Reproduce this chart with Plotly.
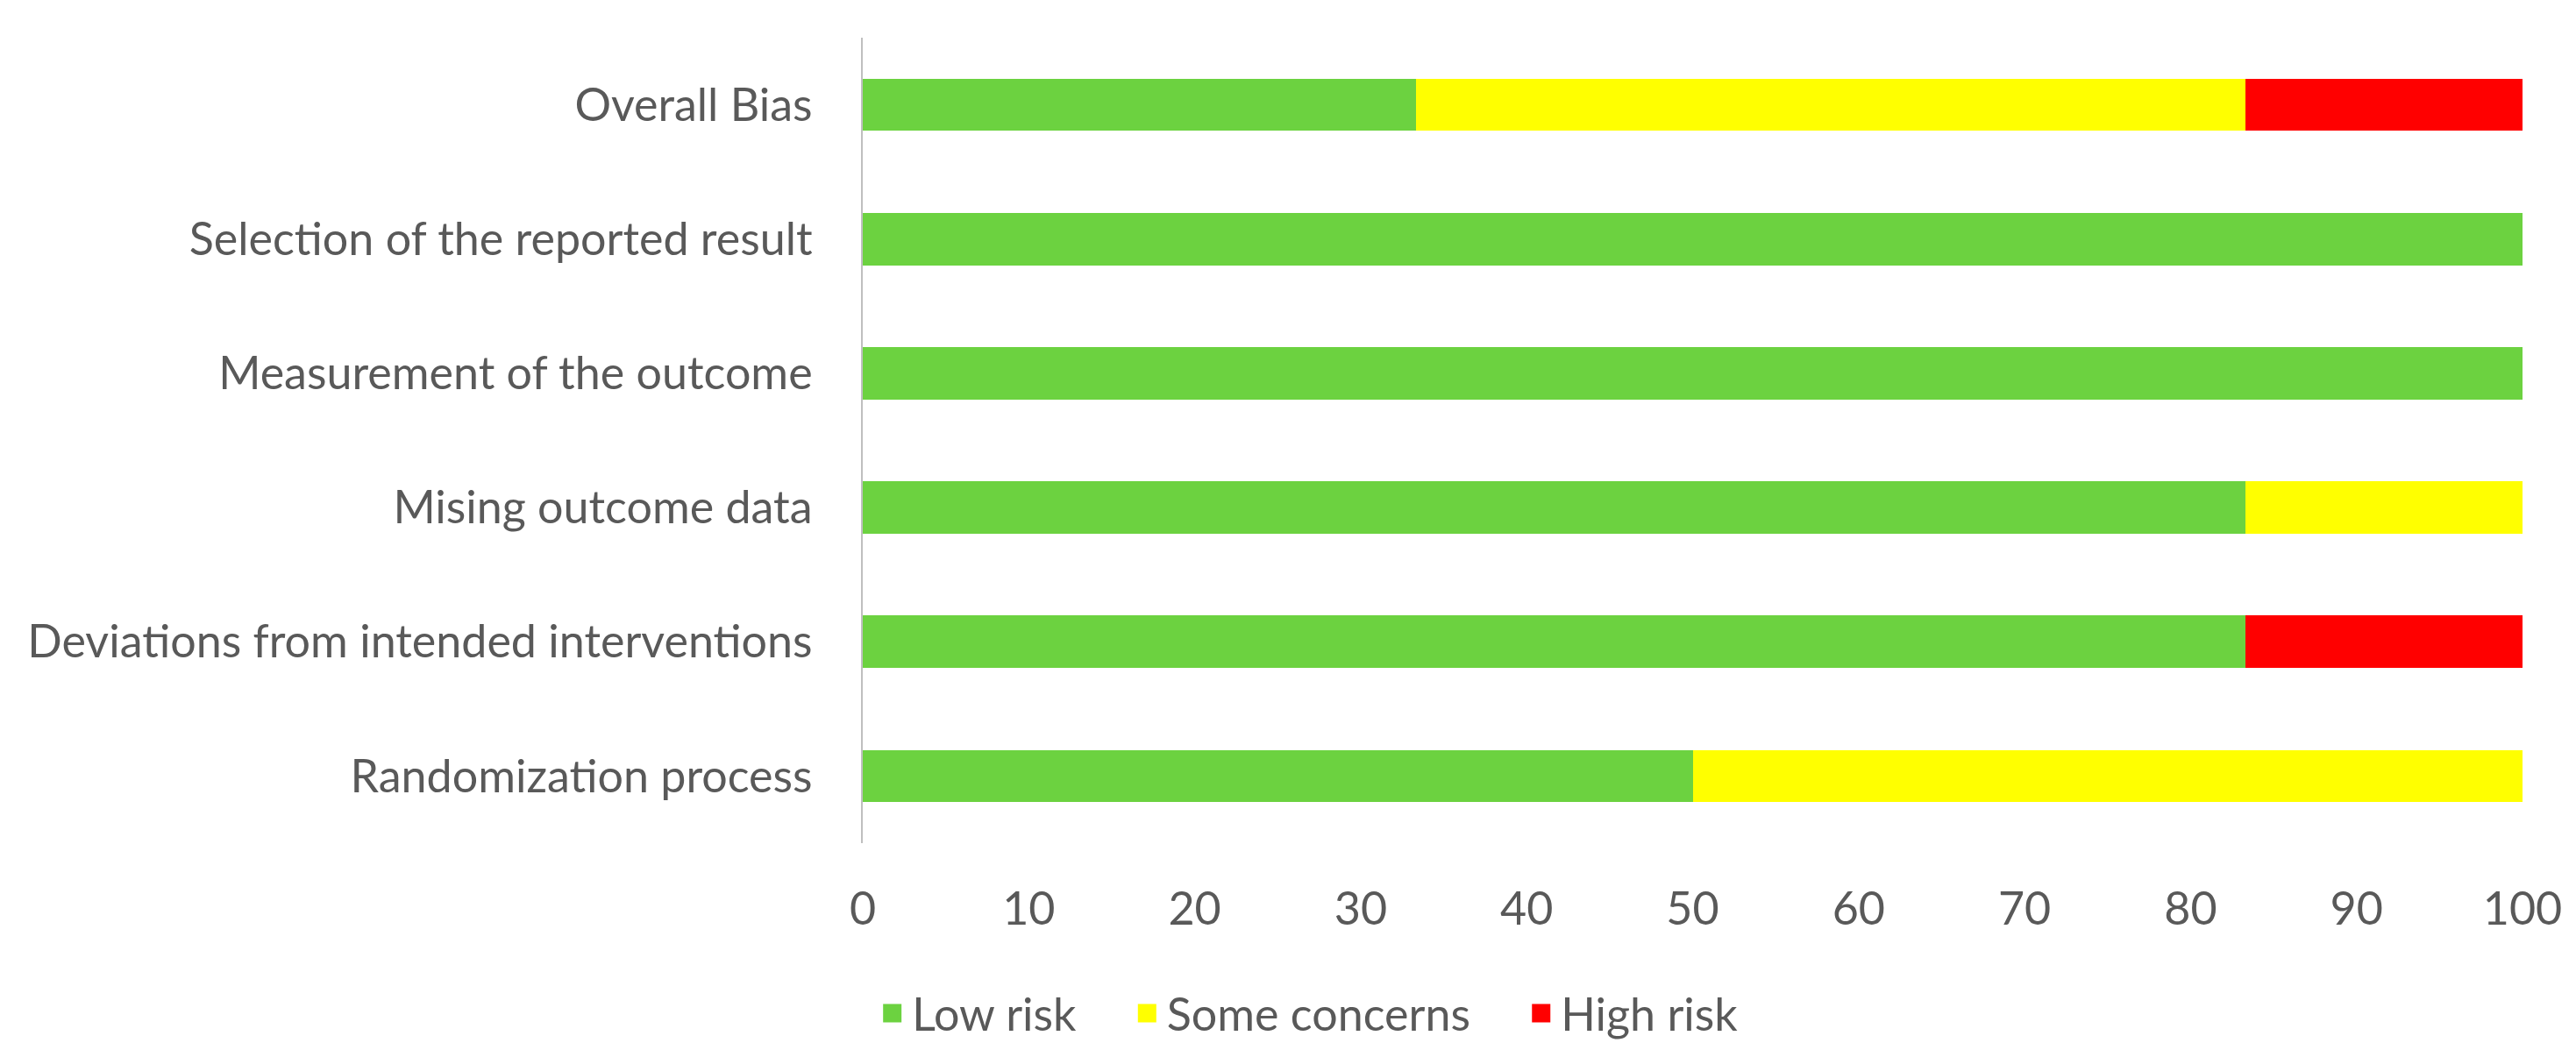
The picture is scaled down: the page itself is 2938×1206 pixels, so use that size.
import plotly.graph_objects as go

categories = [
    "Randomization process",
    "Deviations from intended interventions",
    "Mising outcome data",
    "Measurement of the outcome",
    "Selection of the reported result",
    "Overall Bias",
]
low_risk = [50.0, 83.33, 83.33, 100.0, 100.0, 33.33]
some_concerns = [50.0, 0.0, 16.67, 0.0, 0.0, 50.0]
high_risk = [0.0, 16.67, 0.0, 0.0, 0.0, 16.67]
x_ticks = [0, 10, 20, 30, 40, 50, 60, 70, 80, 90, 100]

series = [
    ("Low risk", low_risk, "#6CD240"),
    ("Some concerns", some_concerns, "#FFFF00"),
    ("High risk", high_risk, "#FF0000"),
]

fig = go.Figure()
for name, vals, color in series:
    fig.add_trace(go.Bar(
        y=categories, x=vals, name=name, orientation="h",
        marker=dict(color=color, line=dict(width=0)),
        width=0.39, legendgroup=name, showlegend=False,
    ))
# legend entries (larger square keys); trailing no-break spaces widen item spacing
pad = "\u00a0" * 4
for i, (name, vals, color) in enumerate(series):
    label = name + (pad if i < len(series) - 1 else "")
    fig.add_trace(go.Scatter(
        x=[None], y=[None], mode="markers", name=label, legendgroup=name,
        marker=dict(symbol="square", size=16, color=color,
                    line=dict(width=5, color=color)),
        showlegend=True, hoverinfo="skip",
    ))

font_color = "#595959"
fig.update_layout(
    width=2938, height=1206,
    barmode="stack",
    plot_bgcolor="white", paper_bgcolor="white",
    margin=dict(l=976, r=69, t=35, b=252, autoexpand=False),
    font=dict(family="Lato", size=52, color=font_color),
    showlegend=True,
    legend=dict(
        orientation="h", xref="container", yref="container",
        x=0.505, xanchor="center", y=0.048, yanchor="middle",
        font=dict(size=52, color=font_color), traceorder="normal",
        itemwidth=35,
    ),
    xaxis=dict(
        range=[0, 100], tickvals=x_ticks, showgrid=False, zeroline=False,
        showline=False, ticks="", ticklabelstandoff=40,
        tickfont=dict(size=52, color=font_color),
    ),
    yaxis=dict(
        type="category", categoryorder="array", categoryarray=categories,
        showgrid=False, zeroline=False, showline=True, linecolor="#BFBFBF",
        linewidth=2, ticks="", ticklabelstandoff=45,
        tickfont=dict(size=52, color=font_color),
        range=[-0.5, 5.5],
    ),
)

fig.write_html("out.html")
